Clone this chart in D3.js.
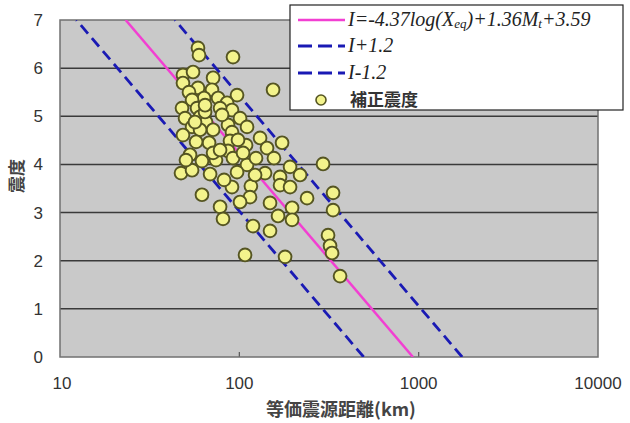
<!DOCTYPE html>
<html><head><meta charset="utf-8">
<script src="https://cdn.jsdelivr.net/npm/d3@7"></script>
<style>body{margin:0;background:#fff}svg{display:block}</style>
</head><body>
<svg id="c" width="630" height="423"></svg>
<script>
// ---- data ----
const xTicks = [10, 100, 1000, 10000];
const yTicks = [0, 1, 2, 3, 4, 5, 6, 7];
// regression line: I = slope*log10(X) + intercept (intercept includes 1.36Mt+3.59)
const fitSlope = -4.37;
const fitIntercept = 12.97;
const bandOffsets = [1.2, -1.2];
const legendLabels = ["I=-4.37log(Xeq)+1.36Mt+3.59", "I+1.2", "I-1.2", "補正震度"];
// equivalent hypocentral distance (km)
const distX = [58.8,59.6,92.2,48.5,55.2,71.4,48.5,58.8,52.4,70.4,63.6,76.1,54.5,97.1,47.9,85.4,91.0,78.1,58.1,49.8,
  60.4,65.2,54.5,86.5,71.4,60.4,91.0,48.5,64.4,56.6,100.9,110.4,154.2,130.5,88.7,67.8,109,142.7,86.5,53.1,
  61.9,74.1,92.2,110.4,156,47.3,54.5,68.7,97.1,139.1,91.0,116,173.1,71.4,104.9,191.8,293.0,168.7,218.1,168.7,
  191.8,61.9,114.7,238.6,333.2,100.9,148.3,196.8,333.2,78.1,81.1,164.4,196.8,119.2,148.3,312.4,320.5,328.9,107.6,179.9,
  364.5,122.4,64.4,80.1,98.3,78.1,123.9,82.2,57.4,50.4];
// corrected seismic intensity
const intensity = [6.42,6.27,6.23,5.86,5.92,5.80,5.69,5.59,5.50,5.55,5.38,5.38,5.34,5.44,5.17,5.28,5.13,5.17,5.17,4.96,
  4.99,4.88,4.78,4.82,4.72,4.72,4.67,4.61,5.09,4.88,4.96,4.78,5.55,4.55,4.49,4.45,4.40,4.34,4.28,4.20,
  4.07,4.09,4.13,3.99,4.13,3.82,3.88,3.80,3.84,3.82,3.53,3.55,4.45,4.24,4.24,3.95,4.01,3.74,3.78,3.57,
  3.53,3.37,3.32,3.30,3.41,3.22,3.20,3.10,3.05,3.12,2.87,2.93,2.85,2.72,2.62,2.53,2.31,2.16,2.12,2.08,
  1.68,3.78,5.23,5.03,4.51,4.30,4.13,3.68,4.47,4.09];

// ---- layout ----
const svg = d3.select("#c");
const L = 60, R = 598, T = 20, B = 357;
const x = d3.scaleLog().domain([10, 10000]).range([L, R]);
const y = d3.scaleLinear().domain([0, 7]).range([B, T]);

svg.append("defs").append("clipPath").attr("id","clip")
  .append("rect").attr("x",L).attr("y",T).attr("width",R-L).attr("height",B-T);

svg.append("rect").attr("x",L).attr("y",T).attr("width",R-L).attr("height",B-T)
  .attr("fill","#c9c9c9");

// gridlines
svg.append("g").selectAll("line").data(yTicks.filter(d=>d>0&&d<7)).join("line")
  .attr("x1",L).attr("x2",R).attr("y1",d=>y(d)).attr("y2",d=>y(d))
  .attr("stroke","#3a3a3a").attr("stroke-width",1.5);

// minor inner ticks on x axis
svg.append("g").selectAll("line").data(xTicks.slice(1,-1)).join("line")
  .attr("x1",d=>x(d)).attr("x2",d=>x(d)).attr("y1",B).attr("y2",B-5)
  .attr("stroke","#555").attr("stroke-width",1.2);

svg.append("rect").attr("x",L).attr("y",T).attr("width",R-L).attr("height",B-T)
  .attr("fill","none").attr("stroke","#707070").attr("stroke-width",1.5);

// lines
const lineFor = off => {
  const xs = [0, 7].map(I => Math.pow(10, (I - fitIntercept - off) / fitSlope));
  return [[xs[0], 0], [xs[1], 7]];
};
const lg = svg.append("g").attr("clip-path","url(#clip)");
const pathGen = d3.line().x(d=>x(d[0])).y(d=>y(d[1]));
bandOffsets.forEach(off => {
  lg.append("path").attr("d", pathGen(lineFor(off))).attr("fill","none")
    .attr("stroke","#1a1ab4").attr("stroke-width",2.8).attr("stroke-dasharray","11,6");
});
lg.append("path").attr("d", pathGen(lineFor(0))).attr("fill","none")
  .attr("stroke","#f23fd2").attr("stroke-width",2.5);

// points
const pts = distX.map((d,i)=>[d, intensity[i]]);
svg.append("g").attr("clip-path","url(#clip)").selectAll("circle").data(pts).join("circle")
  .attr("cx",d=>x(d[0])).attr("cy",d=>y(d[1])).attr("r",6.4)
  .attr("fill","#f3f38c").attr("stroke","#555522").attr("stroke-width",1.9);

// axes labels
const tickFont = "Arial, 'Liberation Sans', sans-serif";
svg.append("g").selectAll("text").data(yTicks).join("text")
  .attr("x",43).attr("y",d=>y(d)+6).attr("text-anchor","end")
  .attr("font-family",tickFont).attr("font-size",17).attr("fill","#333").text(d=>d);
svg.append("g").selectAll("text").data(xTicks).join("text")
  .attr("x",d=>x(d)+ (d===10?2:0)).attr("y",389).attr("text-anchor","middle")
  .attr("font-family",tickFont).attr("font-size",17).attr("fill","#333").text(d=>d);

svg.append("text").attr("x",341).attr("y",416).attr("text-anchor","middle")
  .attr("font-family","'Noto Sans CJK JP', sans-serif").attr("font-size",18).attr("font-weight","bold")
  .attr("fill","#444").text("等価震源距離(km)");
svg.append("text").attr("transform","translate(23,176) rotate(-90)").attr("text-anchor","middle")
  .attr("font-family","'Noto Sans CJK JP', sans-serif").attr("font-size",17).attr("font-weight","bold")
  .attr("fill","#444").text("震度");

// legend
const leg = svg.append("g");
leg.append("rect").attr("x",290).attr("y",5).attr("width",333).attr("height",105)
  .attr("fill","#fff").attr("stroke","#222").attr("stroke-width",1.2);
const rowsY = [20, 46, 73, 100];
leg.append("line").attr("x1",298).attr("x2",345).attr("y1",rowsY[0]).attr("y2",rowsY[0])
  .attr("stroke","#f23fd2").attr("stroke-width",2.5);
[1,2].forEach(i=>leg.append("line").attr("x1",298).attr("x2",345).attr("y1",rowsY[i]).attr("y2",rowsY[i])
  .attr("stroke","#1a1ab4").attr("stroke-width",2.8).attr("stroke-dasharray","14,6"));
leg.append("circle").attr("cx",321).attr("cy",rowsY[3]).attr("r",5)
  .attr("fill","#f3f38c").attr("stroke","#555522").attr("stroke-width",1.6);

const serif = "'Times New Roman','Liberation Serif',serif";
const t0 = leg.append("text").attr("x",348).attr("y",rowsY[0]+6).attr("font-family",serif)
  .attr("font-style","italic").attr("font-size",20).attr("fill","#222");
t0.append("tspan").text("I=-4.37log(X");
t0.append("tspan").attr("font-size",13).attr("dy",2).text("eq");
t0.append("tspan").attr("dy",-2).text(")+1.36M");
t0.append("tspan").attr("font-size",13).attr("dy",2).text("t");
t0.append("tspan").attr("dy",-2).text("+3.59");
[1,2].forEach(i=>leg.append("text").attr("x",348).attr("y",rowsY[i]+6).attr("font-family",serif)
  .attr("font-style","italic").attr("font-size",20).attr("fill","#222").text(legendLabels[i]));
leg.append("text").attr("x",350).attr("y",rowsY[3]+6)
  .attr("font-family","'Noto Sans CJK JP', sans-serif").attr("font-weight","bold")
  .attr("font-size",17).attr("fill","#333").text(legendLabels[3]);
</script>
</body></html>
